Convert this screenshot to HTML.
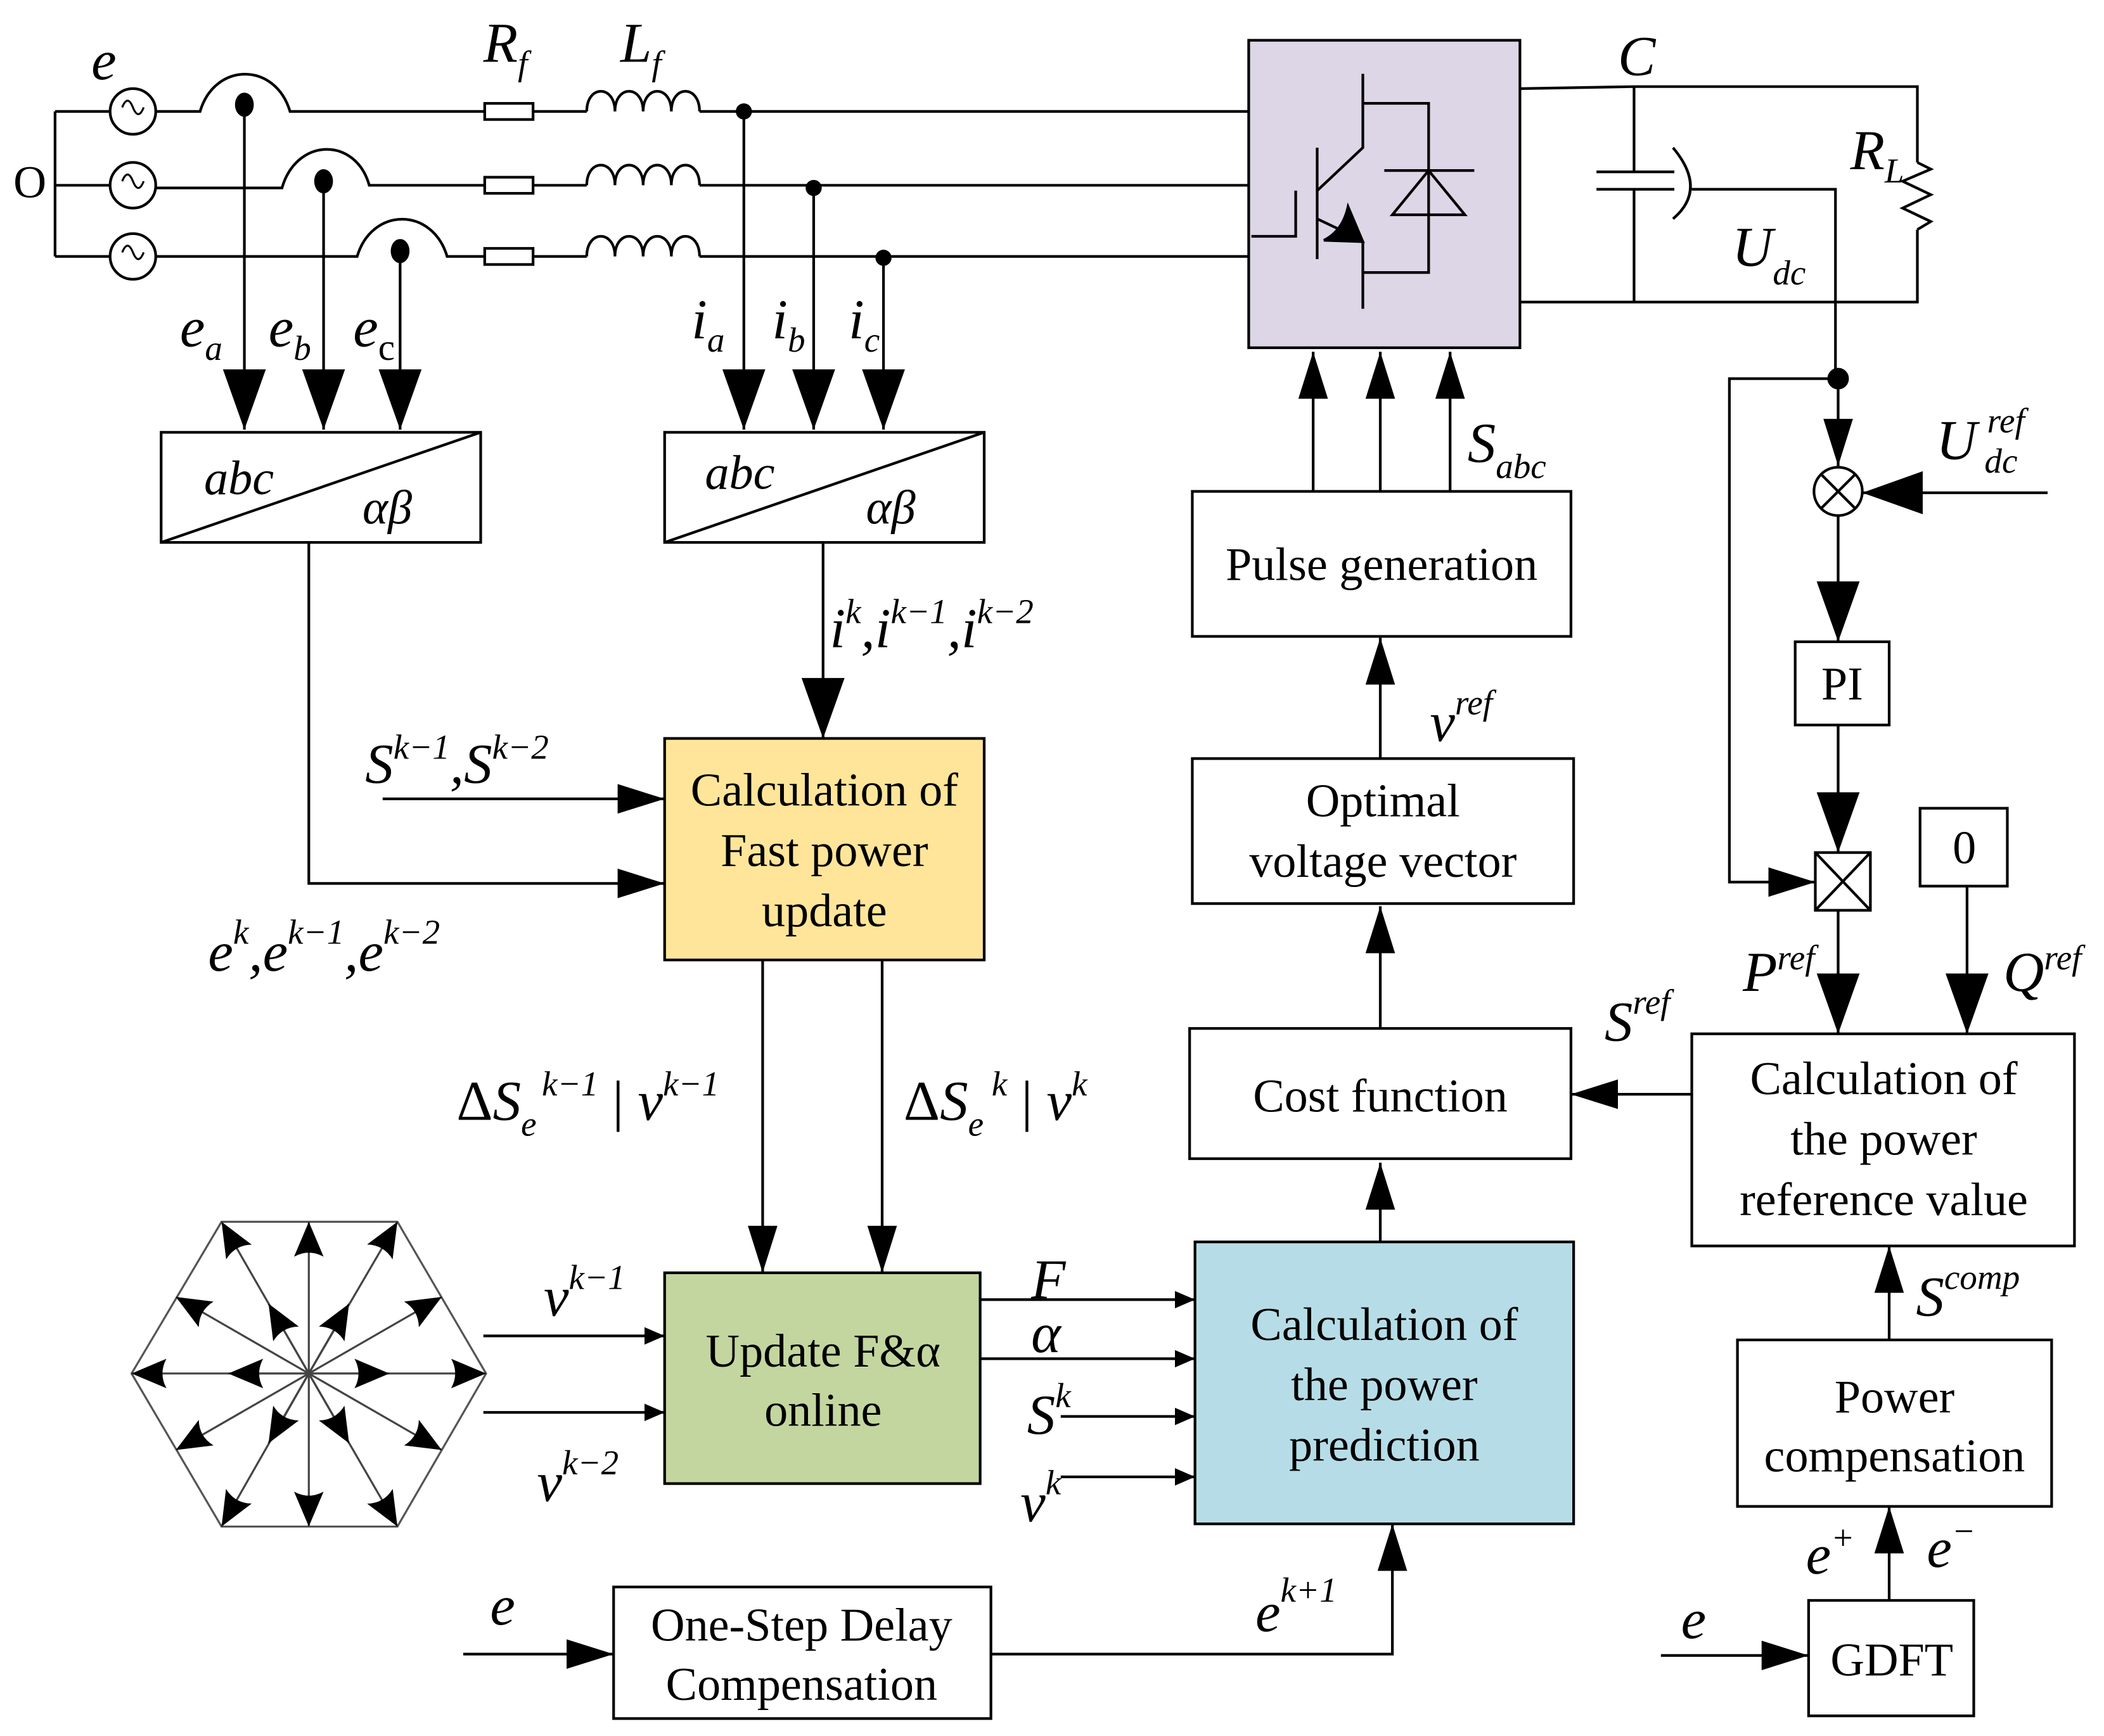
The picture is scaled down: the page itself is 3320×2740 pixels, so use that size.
<!DOCTYPE html>
<html><head><meta charset="utf-8"><style>
html,body{margin:0;padding:0;background:#fff;}
svg{display:block;}
text{font-family:"Liberation Serif",serif;fill:#000;}
.bt{font-size:35px;text-anchor:middle;}
.it{font-style:italic;font-size:42px;}
.sb{font-size:26px;font-style:italic;}
</style></head><body>
<svg width="3320" height="2740" viewBox="0 0 1567 1293" preserveAspectRatio="none" xmlns="http://www.w3.org/2000/svg">
<defs>
<marker id="A" markerUnits="userSpaceOnUse" markerWidth="46" markerHeight="34" refX="45" refY="16" orient="auto"><path d="M0,0 L45,16 L0,32 Z" fill="#000"/></marker>
<marker id="M" markerUnits="userSpaceOnUse" markerWidth="36" markerHeight="24" refX="35" refY="11" orient="auto"><path d="M0,0 L35,11 L0,22 Z" fill="#000"/></marker>
<marker id="S" markerUnits="userSpaceOnUse" markerWidth="16" markerHeight="14" refX="15" refY="6.5" orient="auto"><path d="M0,0 L15,6.5 L0,13 Z" fill="#000"/></marker>
<marker id="H" markerUnits="userSpaceOnUse" markerWidth="28" markerHeight="24" refX="26" refY="11" orient="auto"><path d="M0,0 L26,11 L0,22 Q6,11 0,0 Z" fill="#000"/></marker>
</defs>
<g fill="none" stroke="#000" stroke-width="2">
<path d="M41,83 V191 M41,83 H82 M41,138 H82 M41,191 H82"/>
<circle cx="99" cy="83" r="17"/><circle cx="99" cy="138" r="17"/><circle cx="99" cy="191" r="17"/>
<path d="M91,80 q4,-10 8,0 t8,0 M91,135 q4,-10 8,0 t8,0 M91,188 q4,-10 8,0 t8,0" stroke-width="1.5"/>
<path d="M116,83 H149 C160,46 205,46 216,83 H361 M397,83 H437 M521,83 H930"/>
<path d="M116,140 H210 C221,102 265,102 275,138 H361 M397,138 H437 M521,138 H930"/>
<path d="M116,191 H266 C277,154 322,154 333,191 H361 M397,191 H437 M521,191 H930"/>
<rect x="361" y="77" width="36" height="12"/><rect x="361" y="132" width="36" height="12"/><rect x="361" y="185" width="36" height="12"/>
<path d="M437,83 c0,-20 21,-20 21,0 c0,-20 21,-20 21,0 c0,-20 21,-20 21,0 c0,-20 21,-20 21,0"/>
<path d="M437,138 c0,-20 21,-20 21,0 c0,-20 21,-20 21,0 c0,-20 21,-20 21,0 c0,-20 21,-20 21,0"/>
<path d="M437,191 c0,-20 21,-20 21,0 c0,-20 21,-20 21,0 c0,-20 21,-20 21,0 c0,-20 21,-20 21,0"/>
<path d="M182,78 V320" marker-end="url(#A)"/>
<path d="M241,135 V320" marker-end="url(#A)"/>
<path d="M298,187 V320" marker-end="url(#A)"/>
<path d="M554,83 V320" marker-end="url(#A)"/>
<path d="M606,140 V320" marker-end="url(#A)"/>
<path d="M658,192 V320" marker-end="url(#A)"/>
<rect x="120" y="322" width="238" height="82"/><path d="M120,404 L358,322"/>
<rect x="495" y="322" width="238" height="82"/><path d="M495,404 L733,322"/>
<path d="M230,404 V658 H495" marker-end="url(#M)"/>
<path d="M285,595 H495" marker-end="url(#M)"/>
<path d="M613,404 V550" marker-end="url(#A)"/>
<rect x="495" y="550" width="238" height="165" fill="#fee599"/>
<path d="M568,715 V948" marker-end="url(#M)"/>
<path d="M657,715 V948" marker-end="url(#M)"/>
<rect x="495" y="948" width="235" height="157" fill="#c4d69f"/>
<path d="M360,995 H495" marker-end="url(#S)"/>
<path d="M360,1052 H495" marker-end="url(#S)"/>
<path d="M730,968 H890" marker-end="url(#S)"/>
<path d="M730,1012 H890" marker-end="url(#S)"/>
<path d="M790,1055 H890" marker-end="url(#S)"/>
<path d="M790,1100 H890" marker-end="url(#S)"/>
<rect x="890" y="925" width="282" height="210" fill="#b6dde7"/>
<rect x="457" y="1182" width="281" height="98"/>
<path d="M345,1232 H457" marker-end="url(#M)"/>
<path d="M738,1232 H1037 V1135" marker-end="url(#M)"/>
<path d="M1028,925 V866" marker-end="url(#M)"/>
<rect x="886" y="766" width="284" height="97"/>
<path d="M1028,766 V675" marker-end="url(#M)"/>
<rect x="888" y="565" width="284" height="108"/>
<path d="M1028,565 V475" marker-end="url(#M)"/>
<rect x="888" y="366" width="282" height="108"/>
<path d="M978,366 V262" marker-end="url(#M)"/>
<path d="M1028,366 V262" marker-end="url(#M)"/>
<path d="M1080,366 V262" marker-end="url(#M)"/>
<rect x="930" y="30" width="202" height="229" fill="#dcd6e6"/>
<path d="M1015,55 V110 L981,142 M1015,77 H1064 V203 H1015 M981,110 V193 M932,176 H965 V142 M1015,180 V230 M1031,127 H1098 M1064,127 L1037,160 H1091 Z"/>
<path d="M981,163 L1000,172"/>
<path d="M1015,180 L986,179 Q1000,172 1004,154 Z" fill="#000"/>
<path d="M1132,66 L1217,64.5 H1428 V121 M1428,171 V225 H1132 M1217,64.5 V128 M1217,141 V225 M1189,128 H1247 M1189,141 H1247 M1246,110 Q1272,141 1246,163 M1260,141 H1367 V282"/>
<path d="M1428,121 L1438,126 L1417,135 L1438,145 L1417,155 L1438,165 L1428,171"/>
<circle cx="1369" cy="282" r="7" fill="#000"/>
<path d="M1369,282 V347" marker-end="url(#M)"/>
<path d="M1369,282 H1288 V657 H1352" marker-end="url(#M)"/>
<circle cx="1369" cy="366" r="18"/>
<path d="M1356,353 L1382,379 M1382,353 L1356,379"/>
<path d="M1525,367 H1387" marker-end="url(#A)"/>
<path d="M1369,384 V478" marker-end="url(#A)"/>
<rect x="1337" y="478" width="70" height="62"/>
<path d="M1369,540 V635" marker-end="url(#A)"/>
<rect x="1352" y="635" width="41" height="43"/>
<path d="M1352,635 L1393,678 M1393,635 L1352,678"/>
<rect x="1430" y="602" width="65" height="58"/>
<path d="M1369,678 V770" marker-end="url(#A)"/>
<path d="M1465,660 V770" marker-end="url(#A)"/>
<rect x="1260" y="770" width="285" height="158"/>
<path d="M1260,815 H1170" marker-end="url(#M)"/>
<rect x="1294" y="998" width="234" height="124"/>
<path d="M1407,998 V928" marker-end="url(#M)"/>
<rect x="1347" y="1192" width="123" height="86"/>
<path d="M1407,1192 V1122" marker-end="url(#M)"/>
<path d="M1237,1233 H1347" marker-end="url(#M)"/>
<polygon points="98,1023 165,910 296,910 362,1023 296,1137 165,1137" stroke="#555" stroke-width="1.5"/>
<g stroke="#444" stroke-width="1.5">
<path d="M230,1023 L362,1023" marker-end="url(#H)"/>
<path d="M230,1023 L98,1023" marker-end="url(#H)"/>
<path d="M230,1023 L296,910" marker-end="url(#H)"/>
<path d="M230,1023 L165,910" marker-end="url(#H)"/>
<path d="M230,1023 L296,1137" marker-end="url(#H)"/>
<path d="M230,1023 L165,1137" marker-end="url(#H)"/>
<path d="M230,1023 L290,1023" marker-end="url(#H)"/>
<path d="M230,1023 L170,1023" marker-end="url(#H)"/>
<path d="M230,1023 L260,971" marker-end="url(#H)"/>
<path d="M230,1023 L200,971" marker-end="url(#H)"/>
<path d="M230,1023 L260,1075" marker-end="url(#H)"/>
<path d="M230,1023 L200,1075" marker-end="url(#H)"/>
<path d="M230,1023 L230,910" marker-end="url(#H)"/>
<path d="M230,1023 L230,1137" marker-end="url(#H)"/>
<path d="M230,1023 L329,966" marker-end="url(#H)"/>
<path d="M230,1023 L131,966" marker-end="url(#H)"/>
<path d="M230,1023 L329,1080" marker-end="url(#H)"/>
<path d="M230,1023 L131,1080" marker-end="url(#H)"/>
</g>
</g>
<g fill="#000">
<ellipse cx="182" cy="78" rx="7" ry="9"/><ellipse cx="241" cy="135" rx="7" ry="9"/><ellipse cx="298" cy="187" rx="7" ry="9"/>
<circle cx="554" cy="83" r="6"/><circle cx="606" cy="140" r="6"/><circle cx="658" cy="192" r="6"/>
</g>
<text x="10" y="147" font-size="34">O</text>
<text class="it" x="68" y="59">e</text>
<text class="it" x="360" y="46">R<tspan class="sb" dy="10">f</tspan></text>
<text class="it" x="462" y="46">L<tspan class="sb" dy="10">f</tspan></text>
<text class="it" x="134" y="258">e<tspan class="sb" dy="10">a</tspan></text>
<text class="it" x="200" y="258">e<tspan class="sb" dy="10">b</tspan></text>
<text class="it" x="263" y="258">e<tspan font-size="28" font-style="normal" dy="10">c</tspan></text>
<text class="it" x="515" y="252">i<tspan class="sb" dy="10">a</tspan></text>
<text class="it" x="575" y="252">i<tspan class="sb" dy="10">b</tspan></text>
<text class="it" x="632" y="252">i<tspan class="sb" dy="10">c</tspan></text>
<text x="152" y="368" font-size="36" font-style="italic">abc</text>
<text x="270" y="390" font-size="36" font-style="italic">αβ</text>
<text x="525" y="364" font-size="36" font-style="italic">abc</text>
<text x="645" y="390" font-size="36" font-style="italic">αβ</text>
<text class="it" x="618" y="482">i<tspan class="sb" dy="-18">k</tspan><tspan dy="18">,i</tspan><tspan class="sb" dy="-18">k−1</tspan><tspan dy="18">,i</tspan><tspan class="sb" dy="-18">k−2</tspan></text>
<text class="it" x="272" y="583">S<tspan class="sb" dy="-18">k−1</tspan><tspan dy="18">,S</tspan><tspan class="sb" dy="-18">k−2</tspan></text>
<text class="it" x="155" y="723">e<tspan class="sb" dy="-20">k</tspan><tspan dy="20">,e</tspan><tspan class="sb" dy="-20">k−1</tspan><tspan dy="20">,e</tspan><tspan class="sb" dy="-20">k−2</tspan></text>
<text class="bt" x="614" y="600">Calculation of</text>
<text class="bt" x="614" y="645">Fast power</text>
<text class="bt" x="614" y="690">update</text>
<text class="it" x="340" y="834"><tspan font-style="normal">Δ</tspan>S<tspan class="sb" dy="12">e</tspan><tspan class="sb" dy="-30" dx="4">k−1</tspan><tspan dy="18" font-style="normal"> | </tspan>v<tspan class="sb" dy="-18">k−1</tspan></text>
<text class="it" x="673" y="834"><tspan font-style="normal">Δ</tspan>S<tspan class="sb" dy="12">e</tspan><tspan class="sb" dy="-30" dx="6">k</tspan><tspan dy="18" font-style="normal"> | </tspan>v<tspan class="sb" dy="-18">k</tspan></text>
<text class="bt" x="613" y="1018">Update F&amp;α</text>
<text class="bt" x="613" y="1062">online</text>
<text class="it" x="405" y="980">v<tspan class="sb" dy="-20">k−1</tspan></text>
<text class="it" x="400" y="1118">v<tspan class="sb" dy="-20">k−2</tspan></text>
<text class="it" x="768" y="967">F</text>
<text class="it" x="768" y="1007">α</text>
<text class="it" x="765" y="1068">S<tspan class="sb" dy="-20">k</tspan></text>
<text class="it" x="760" y="1133">v<tspan class="sb" dy="-20">k</tspan></text>
<text class="bt" x="1031" y="998">Calculation of</text>
<text class="bt" x="1031" y="1043">the power</text>
<text class="bt" x="1031" y="1088">prediction</text>
<text class="bt" x="597" y="1222">One-Step Delay</text>
<text class="bt" x="597" y="1266">Compensation</text>
<text class="it" x="365" y="1210">e</text>
<text class="it" x="935" y="1215">e<tspan class="sb" dy="-22" font-size="28">k+1</tspan></text>
<text class="bt" x="1028" y="828">Cost  function</text>
<text class="bt" x="1030" y="608">Optimal</text>
<text class="bt" x="1030" y="653">voltage vector</text>
<text class="it" x="1065" y="552">v<tspan class="sb" dy="-20">ref</tspan></text>
<text class="bt" x="1029" y="432">Pulse generation</text>
<text class="it" x="1093" y="344">S<tspan class="sb" dy="12">abc</tspan></text>
<text class="it" x="1205" y="56">C</text>
<text class="it" x="1378" y="126">R<tspan class="sb" dy="10">L</tspan></text>
<text class="it" x="1290" y="198">U<tspan class="sb" dy="14">dc</tspan></text>
<text class="it" x="1442" y="342">U</text><text class="sb" x="1480" y="322">ref</text><text class="sb" x="1478" y="352">dc</text>
<text class="bt" x="1372" y="521">PI</text>
<text class="bt" x="1463" y="643">0</text>
<text class="it" x="1298" y="738">P<tspan class="sb" dy="-16">ref</tspan></text>
<text class="it" x="1492" y="738">Q<tspan class="sb" dy="-16">ref</tspan></text>
<text class="it" x="1195" y="775">S<tspan class="sb" dy="-20">ref</tspan></text>
<text class="bt" x="1403" y="815">Calculation of</text>
<text class="bt" x="1403" y="860">the power</text>
<text class="bt" x="1403" y="905">reference value</text>
<text class="it" x="1427" y="980">S<tspan class="sb" dy="-20">comp</tspan></text>
<text class="bt" x="1411" y="1052">Power</text>
<text class="bt" x="1411" y="1096">compensation</text>
<text class="it" x="1345" y="1172">e<tspan class="sb" dy="-18">+</tspan></text>
<text class="it" x="1435" y="1167">e<tspan class="sb" dy="-18">−</tspan></text>
<text class="it" x="1252" y="1220">e</text>
<text class="bt" x="1409" y="1248">GDFT</text>
</svg>
</body></html>
